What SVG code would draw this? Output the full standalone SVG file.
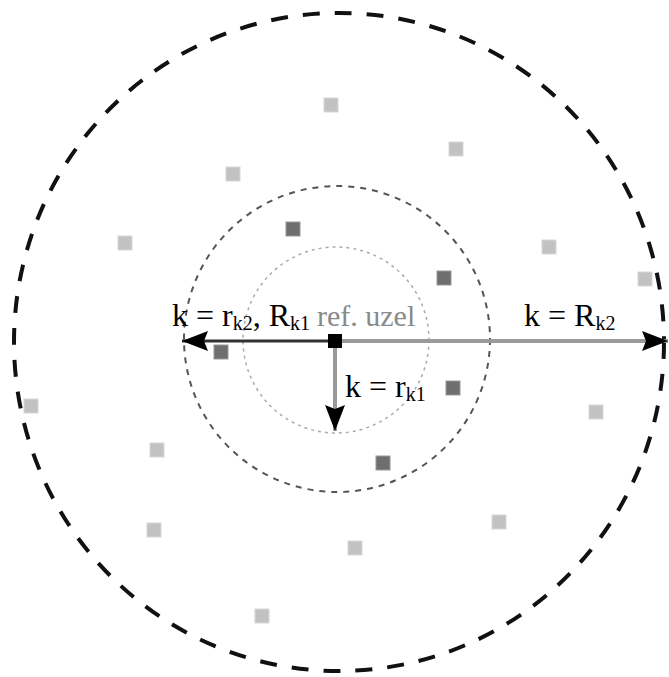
<svg xmlns="http://www.w3.org/2000/svg" width="669" height="677" viewBox="0 0 669 677">
<style>
  .lbl { font-family: "Liberation Serif", "Times New Roman", serif; font-size: 32px; fill: #000; }
  .sub { font-size: 20px; }
  .ref { font-family: "Liberation Serif", "Times New Roman", serif; font-size: 30px; fill: #8a8a8a; }
  .light { fill: #c2c2c2; stroke: #d8d8d8; stroke-width: 1; }
  .dark { fill: #6e6e6e; stroke: #999; stroke-width: 1; }
  .outer { fill: none; stroke: #111; stroke-width: 4; stroke-dasharray: 17 15; }
  .middle { fill: none; stroke: #555; stroke-width: 2; stroke-dasharray: 6 6; }
  .inner { fill: none; stroke: #aaa; stroke-width: 1.5; stroke-dasharray: 3 4; }
</style>
<defs>
  <marker id="ah" markerUnits="userSpaceOnUse" markerWidth="26" markerHeight="20" refX="26" refY="10" orient="auto">
    <path d="M0,0 L26,10 L0,20 L4,10 z" fill="#000"/>
  </marker>
</defs>
<g id="circles">
  <ellipse class="outer" cx="339" cy="342" rx="325" ry="329"/>
  <circle class="middle" cx="337" cy="339" r="153"/>
  <circle class="inner" cx="336" cy="340" r="93"/>
</g>
<g id="nodes">
  <rect id="n1" class="light" x="324" y="98" width="14" height="14"/>
  <rect id="n2" class="light" x="449" y="142" width="14" height="14"/>
  <rect id="n3" class="light" x="226" y="167" width="14" height="14"/>
  <rect id="n4" class="dark" x="286" y="222" width="14" height="14"/>
  <rect id="n5" class="light" x="118" y="236" width="14" height="14"/>
  <rect id="n6" class="light" x="542" y="240" width="14" height="14"/>
  <rect id="n7" class="dark" x="437" y="271" width="14" height="14"/>
  <rect id="n8" class="light" x="638" y="272" width="14" height="14"/>
  <rect id="n9" class="dark" x="214" y="345" width="14" height="14"/>
  <rect id="n10" class="dark" x="446" y="381" width="14" height="14"/>
  <rect id="n11" class="light" x="24" y="399" width="14" height="14"/>
  <rect id="n12" class="light" x="589" y="405" width="14" height="14"/>
  <rect id="n13" class="light" x="150" y="443" width="14" height="14"/>
  <rect id="n14" class="dark" x="376" y="456" width="14" height="14"/>
  <rect id="n15" class="light" x="492" y="515" width="14" height="14"/>
  <rect id="n16" class="light" x="147" y="523" width="14" height="14"/>
  <rect id="n17" class="light" x="348" y="541" width="14" height="14"/>
  <rect id="n18" class="light" x="255" y="609" width="14" height="14"/>
</g>
<g id="connectors">
  <line x1="335" y1="341" x2="182" y2="341" stroke="#333" stroke-width="3" marker-end="url(#ah)"/>
  <line x1="335" y1="341" x2="668" y2="341" stroke="#9a9a9a" stroke-width="4" marker-end="url(#ah)"/>
  <line x1="335" y1="341" x2="335" y2="431" stroke="#9a9a9a" stroke-width="4" marker-end="url(#ah)"/>
</g>
<g id="ref-node">
  <rect x="328" y="334" width="14" height="14" fill="#000"/>
</g>
<g id="labels">
  <text class="lbl" x="172" y="326">k = r<tspan class="sub" dy="4">k2</tspan><tspan dy="-4">, R</tspan><tspan class="sub" dy="4">k1</tspan></text>
  <text class="ref" x="317" y="326">ref. uzel</text>
  <text class="lbl" x="524" y="326">k = R<tspan class="sub" dy="4">k2</tspan></text>
  <text class="lbl" x="345" y="397">k = r<tspan class="sub" dy="4">k1</tspan></text>
</g>
</svg>
